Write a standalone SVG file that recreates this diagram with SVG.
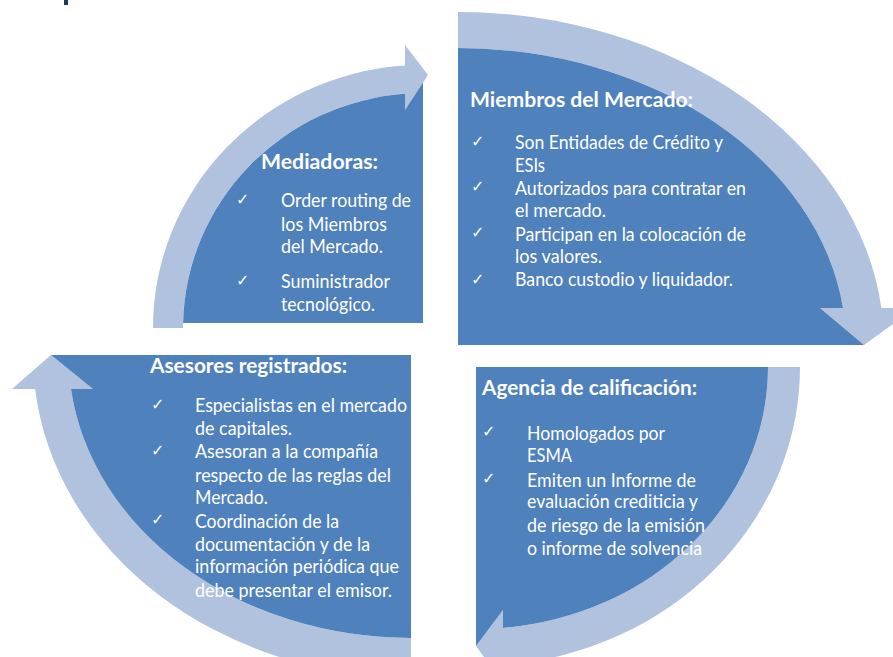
<svg xmlns="http://www.w3.org/2000/svg" width="893" height="657" viewBox="0 0 893 657">
<style>
.bg{fill:#ffffff}
.blue{fill:#4F81BD}
.arrow{fill:#B0C2DE}
.t{font-family:Lato,"Liberation Sans",sans-serif;font-size:18.5px;fill:#ffffff}
.h{font-family:Lato,"Liberation Sans",sans-serif;font-size:21px;font-weight:bold;fill:#ffffff}
.ck{font-family:"DejaVu Sans",sans-serif;font-size:16px;fill:#ffffff}
</style>
<rect class="bg" x="0" y="0" width="893" height="657"/>
<rect x="64" y="0" width="4" height="5" fill="#1F3864"/>
<g id="connectors">
<path class="arrow" d="M153,328 A270,263 0 0 1 405,65.6 L405,45 L428,75 L405,110 L405,93.7 A240,235 0 0 0 183,328 Z"/>
<path class="arrow" d="M458,12 A426,333 0 0 1 881.4,308 L915,308 L864,345 L820,308 L843,308 A388,297 0 0 0 458,48 Z"/>
<path class="arrow" d="M800,367 A324,299 0 0 1 503,665 L503,683 L476,646 L503,610 L503,628 A292,262 0 0 0 768,367 Z"/>
<path class="arrow" d="M411,677 A378,322 0 0 1 35.1,389 L12,389 L51,355 L93,389 L71,389 A342.5,283 0 0 0 411,638 Z"/>
</g>
<g id="node-mediadoras">
<path class="blue" d="M423,323 L183.1,323 A240,235 0 0 1 405,93.7 L405,110 L423,82.6 Z"/>
<text class="h" x="261" y="169" textLength="117" lengthAdjust="spacingAndGlyphs">Mediadoras:</text>
<text class="ck" x="236" y="205">✓</text>
<text class="t" x="281" y="207" textLength="130" lengthAdjust="spacingAndGlyphs">Order routing de</text>
<text class="t" x="281" y="231" textLength="106" lengthAdjust="spacingAndGlyphs">los Miembros</text>
<text class="t" x="281" y="253" textLength="102" lengthAdjust="spacingAndGlyphs">del Mercado.</text>
<text class="ck" x="236" y="286">✓</text>
<text class="t" x="281" y="288" textLength="109" lengthAdjust="spacingAndGlyphs">Suministrador</text>
<text class="t" x="281" y="311" textLength="94" lengthAdjust="spacingAndGlyphs">tecnológico.</text>
</g>
<g id="node-miembros">
<path class="blue" d="M458,345 L458,48 A388,297 0 0 1 843,308 L820,308 L864,345 Z"/>
<text class="h" x="470" y="107" textLength="223" lengthAdjust="spacingAndGlyphs">Miembros del Mercado:</text>
<text class="ck" x="471" y="147">✓</text>
<text class="t" x="515" y="149" textLength="208" lengthAdjust="spacingAndGlyphs">Son Entidades de Crédito y</text>
<text class="t" x="515" y="172" textLength="30" lengthAdjust="spacingAndGlyphs">ESIs</text>
<text class="ck" x="471" y="192">✓</text>
<text class="t" x="515" y="195" textLength="231" lengthAdjust="spacingAndGlyphs">Autorizados para contratar en</text>
<text class="t" x="515" y="217" textLength="91" lengthAdjust="spacingAndGlyphs">el mercado.</text>
<text class="ck" x="471" y="238">✓</text>
<text class="t" x="515" y="241" textLength="231" lengthAdjust="spacingAndGlyphs">Participan en la colocación de</text>
<text class="t" x="515" y="263" textLength="87" lengthAdjust="spacingAndGlyphs">los valores.</text>
<text class="ck" x="471" y="285">✓</text>
<text class="t" x="515" y="286" textLength="218" lengthAdjust="spacingAndGlyphs">Banco custodio y liquidador.</text>
</g>
<g id="node-asesores">
<path class="blue" d="M411,355 L51,355 L93,389 L71,389 A342.5,283 0 0 0 411,638 Z"/>
<text class="h" x="150" y="373" textLength="197" lengthAdjust="spacingAndGlyphs">Asesores registrados:</text>
<text class="ck" x="151" y="410">✓</text>
<text class="t" x="195" y="412" textLength="212" lengthAdjust="spacingAndGlyphs">Especialistas en el mercado</text>
<text class="t" x="195" y="435" textLength="97" lengthAdjust="spacingAndGlyphs">de capitales.</text>
<text class="ck" x="151" y="456">✓</text>
<text class="t" x="195" y="458" textLength="183" lengthAdjust="spacingAndGlyphs">Asesoran a la compañía</text>
<text class="t" x="195" y="482" textLength="196" lengthAdjust="spacingAndGlyphs">respecto de las reglas del</text>
<text class="t" x="195" y="504" textLength="73" lengthAdjust="spacingAndGlyphs">Mercado.</text>
<text class="ck" x="151" y="525">✓</text>
<text class="t" x="195" y="528" textLength="144" lengthAdjust="spacingAndGlyphs">Coordinación de la</text>
<text class="t" x="195" y="551" textLength="175" lengthAdjust="spacingAndGlyphs">documentación y de la</text>
<text class="t" x="195" y="573" textLength="204" lengthAdjust="spacingAndGlyphs">información periódica que</text>
<text class="t" x="195" y="597" textLength="197" lengthAdjust="spacingAndGlyphs">debe presentar el emisor.</text>
</g>
<g id="node-agencia">
<path class="blue" d="M476,367 L768,367 A292,262 0 0 1 503,628 L503,610 L476,646 Z"/>
<text class="h" x="482" y="395" textLength="215" lengthAdjust="spacingAndGlyphs">Agencia de calificación:</text>
<text class="ck" x="482" y="437">✓</text>
<text class="t" x="527" y="440" textLength="138" lengthAdjust="spacingAndGlyphs">Homologados por</text>
<text class="t" x="527" y="462" textLength="45" lengthAdjust="spacingAndGlyphs">ESMA</text>
<text class="ck" x="482" y="484">✓</text>
<text class="t" x="527" y="487" textLength="169" lengthAdjust="spacingAndGlyphs">Emiten un Informe de</text>
<text class="t" x="527" y="508" textLength="171" lengthAdjust="spacingAndGlyphs">evaluación crediticia y</text>
<text class="t" x="527" y="532" textLength="178" lengthAdjust="spacingAndGlyphs">de riesgo de la emisión</text>
<text class="t" x="527" y="555" textLength="175" lengthAdjust="spacingAndGlyphs">o informe de solvencia</text>
</g>
</svg>
